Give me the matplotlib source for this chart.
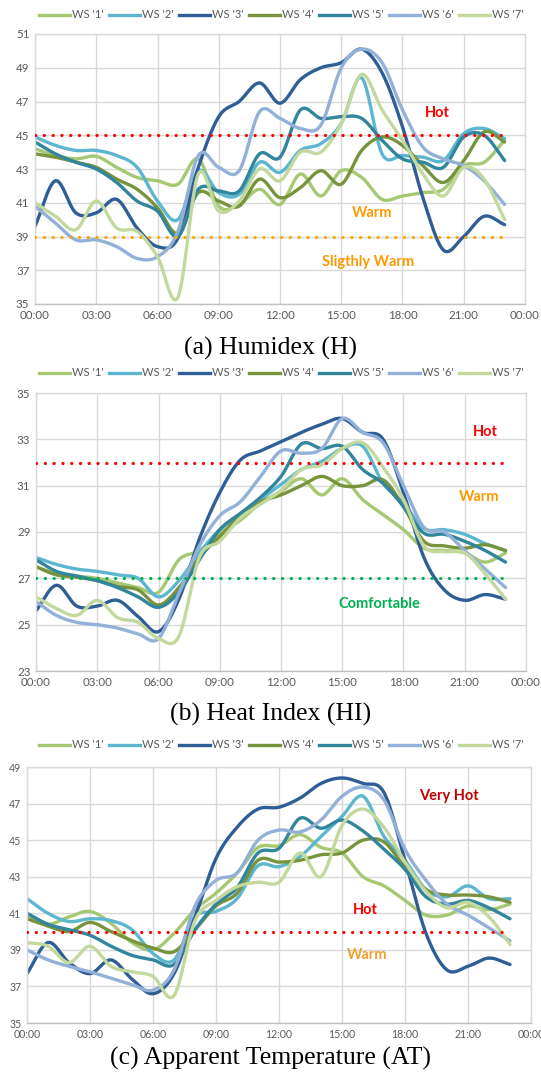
import numpy as np
import matplotlib
matplotlib.use("Agg")
import matplotlib.pyplot as plt
from matplotlib.lines import Line2D

hours = list(range(24))
series_names = ["WS '1'", "WS '2'", "WS '3'", "WS '4'", "WS '5'", "WS '6'", "WS '7'"]
colors = ["#A6C872", "#5DB6CF", "#2F5D96", "#77933C", "#31859C", "#92B0D8", "#C2D89D"]
xtick_labels = ["00:00", "03:00", "06:00", "09:00", "12:00", "15:00", "18:00", "21:00", "00:00"]

# (a) Humidex
H_WS1 = [44.2, 43.8, 43.6, 43.75, 43.1, 42.5, 42.3, 42.1, 43.6, 40.8, 40.9, 41.8, 40.9, 42.7, 41.4, 42.9, 42.5, 41.2, 41.4, 41.6, 41.8, 43.2, 43.4, 44.7]
H_WS2 = [44.9, 44.4, 44.1, 44.1, 43.8, 43.1, 41.1, 40.0, 42.9, 41.6, 41.5, 43.4, 42.8, 44.1, 44.5, 45.7, 48.4, 43.9, 43.8, 43.7, 43.5, 45.1, 45.4, 44.8]
H_WS3 = [39.6, 42.3, 40.4, 40.4, 41.2, 39.5, 38.4, 38.9, 43.1, 46.1, 47.0, 48.1, 46.9, 48.3, 49.0, 49.3, 50.1, 48.7, 45.5, 41.3, 38.2, 39.0, 40.2, 39.7]
H_WS4 = [43.9, 43.7, 43.4, 43.1, 42.4, 41.8, 40.7, 39.2, 41.6, 41.1, 40.8, 42.4, 41.3, 41.9, 42.9, 42.1, 44.1, 44.9, 44.4, 43.2, 42.2, 43.5, 45.2, 44.6]
H_WS5 = [44.6, 43.9, 43.4, 43.0, 42.2, 41.1, 40.5, 39.0, 41.8, 41.7, 41.7, 43.9, 43.7, 46.5, 46.0, 46.1, 46.0, 44.7, 43.6, 43.4, 43.1, 44.9, 45.0, 43.5]
H_WS6 = [40.8, 39.8, 38.8, 38.8, 38.4, 37.7, 37.8, 39.3, 43.8, 43.1, 42.9, 46.4, 46.0, 45.4, 45.6, 49.0, 50.1, 49.3, 46.5, 44.3, 43.6, 43.2, 42.3, 40.9]
H_WS7 = [41.0, 40.2, 39.4, 41.1, 39.5, 39.3, 37.8, 35.4, 42.7, 40.5, 41.1, 43.0, 42.3, 44.0, 44.0, 45.7, 48.6, 46.5, 44.7, 42.7, 41.4, 43.1, 42.4, 40.0]

# (b) Heat Index
HI_WS1 = [27.5, 27.2, 27.1, 27.0, 26.8, 26.6, 26.4, 27.8, 28.2, 28.95, 29.5, 30.25, 30.75, 31.3, 30.6, 31.3, 30.4, 29.75, 29.1, 28.3, 28.2, 28.1, 27.7, 28.1]
HI_WS2 = [27.9, 27.6, 27.4, 27.3, 27.15, 27.0, 26.2, 26.9, 28.1, 29.1, 29.7, 30.4, 31.05, 31.7, 32.05, 32.6, 32.7, 31.1, 30.25, 29.15, 29.1, 28.9, 28.5, 28.2]
HI_WS3 = [25.6, 26.7, 25.8, 25.8, 26.05, 25.35, 24.7, 26.1, 28.7, 30.7, 32.1, 32.5, 32.9, 33.3, 33.65, 33.9, 33.3, 33.0, 30.7, 27.9, 26.5, 26.05, 26.3, 26.1]
HI_WS4 = [27.5, 27.15, 27.05, 26.9, 26.65, 26.5, 25.85, 26.6, 27.9, 28.8, 29.7, 30.3, 30.6, 31.0, 31.4, 31.0, 31.0, 31.25, 30.1, 28.6, 28.4, 28.3, 28.45, 28.2]
HI_WS5 = [27.8, 27.3, 27.1, 26.9, 26.6, 26.2, 25.75, 26.4, 27.8, 29.1, 29.8, 30.5, 31.4, 32.8, 32.6, 32.7, 31.7, 31.1, 30.1, 28.95, 28.9, 28.6, 28.2, 27.7]
HI_WS6 = [26.0, 25.4, 25.1, 25.0, 24.85, 24.6, 24.4, 26.35, 28.4, 29.7, 30.3, 31.4, 32.5, 32.4, 32.6, 33.9, 33.3, 32.85, 31.0, 29.2, 29.0, 28.2, 27.4, 26.6]
HI_WS7 = [26.2, 25.7, 25.4, 26.05, 25.3, 25.1, 24.4, 24.5, 27.9, 28.6, 29.6, 30.2, 30.8, 31.7, 31.9, 32.6, 32.85, 31.8, 30.4, 28.4, 28.15, 28.1, 27.2, 26.1]

# (c) Apparent Temperature
AT_WS1 = [40.8, 40.4, 40.8, 41.1, 40.45, 39.4, 39.0, 39.9, 41.2, 42.1, 43.2, 44.6, 44.7, 45.3, 44.6, 44.3, 43.0, 42.5, 41.7, 40.9, 40.9, 41.4, 41.2, 41.5]
AT_WS2 = [41.8, 41.0, 40.55, 40.7, 40.6, 40.1, 38.8, 38.45, 40.8, 41.1, 41.8, 43.6, 43.55, 44.1, 45.2, 46.3, 47.4, 45.2, 43.9, 42.3, 41.9, 42.5, 41.8, 41.8]
AT_WS3 = [37.7, 39.4, 38.3, 37.7, 38.45, 37.4, 36.6, 37.7, 40.8, 44.0, 45.7, 46.7, 46.8, 47.3, 48.1, 48.4, 48.1, 47.6, 43.9, 39.9, 37.9, 38.1, 38.55, 38.2]
AT_WS4 = [40.7, 40.3, 40.0, 40.5, 40.0, 39.5, 39.1, 38.9, 40.1, 41.4, 42.1, 43.9, 43.8, 43.9, 44.2, 44.3, 45.0, 44.9, 43.5, 42.3, 42.0, 42.0, 41.9, 41.6]
AT_WS5 = [41.0, 40.4, 40.1, 39.8, 39.2, 38.7, 38.45, 38.2, 40.1, 41.5, 42.4, 44.3, 44.55, 46.2, 45.65, 46.1, 45.5, 44.5, 43.4, 41.9, 41.5, 41.7, 41.3, 40.7]
AT_WS6 = [39.0, 38.45, 38.1, 37.8, 37.45, 37.1, 36.8, 37.9, 41.4, 42.8, 43.2, 45.0, 45.55, 45.45, 46.1, 47.4, 47.9, 47.2, 44.5, 42.8, 41.5, 40.9, 40.2, 39.5]
AT_WS7 = [39.4, 39.2, 38.3, 39.2, 38.1, 37.8, 37.55, 36.5, 40.6, 41.7, 42.45, 42.7, 42.7, 44.3, 43.0, 45.8, 46.7, 45.7, 43.8, 42.2, 41.3, 41.6, 40.8, 39.3]

H_series = [H_WS1, H_WS2, H_WS3, H_WS4, H_WS5, H_WS6, H_WS7]
HI_series = [HI_WS1, HI_WS2, HI_WS3, HI_WS4, HI_WS5, HI_WS6, HI_WS7]
AT_series = [AT_WS1, AT_WS2, AT_WS3, AT_WS4, AT_WS5, AT_WS6, AT_WS7]

H_thresholds = [(45, "#FF0000"), (39, "#FFA500")]
HI_thresholds = [(32, "#FF0000"), (27, "#00B050")]
AT_thresholds = [(40, "#FF0000")]

H_labels = [(19.7, 46.3, "Hot", "#FF0000"), (16.5, 40.4, "Warm", "#FF9900"), (16.3, 37.5, "Sligthly Warm", "#FF9900")]
HI_labels = [(22.0, 33.3, "Hot", "#FF0000"), (21.7, 30.5, "Warm", "#FF9900"), (16.8, 25.9, "Comfortable", "#00B050")]
AT_labels = [(20.1, 47.4, "Very Hot", "#C00000"), (16.1, 41.2, "Hot", "#FF0000"), (16.2, 38.7, "Warm", "#F0A030")]


def catmull_rom(x, y, n=24):
    x = np.asarray(x, float)
    y = np.asarray(y, float)
    xp = np.concatenate([[2 * x[0] - x[1]], x, [2 * x[-1] - x[-2]]])
    yp = np.concatenate([[2 * y[0] - y[1]], y, [2 * y[-1] - y[-2]]])
    xs, ys = [], []
    t = np.linspace(0, 1, n, endpoint=False)
    for i in range(1, len(xp) - 2):
        for arr, out in ((xp, xs), (yp, ys)):
            p0, p1, p2, p3 = arr[i - 1], arr[i], arr[i + 1], arr[i + 2]
            out.append(0.5 * ((2 * p1) + (-p0 + p2) * t + (2 * p0 - 5 * p1 + 4 * p2 - p3) * t ** 2
                              + (-p0 + 3 * p1 - 3 * p2 + p3) * t ** 3))
    xs.append([x[-1]])
    ys.append([y[-1]])
    return np.concatenate(xs), np.concatenate(ys)


fig = plt.figure(figsize=(5.41, 10.75), dpi=100)
fig.patch.set_facecolor("white")

panels = [
    dict(rect=[35 / 541, 1 - 304 / 1075, 490 / 541, 270 / 1075], data=H_series, ylim=(35, 51),
         th=H_thresholds, labels=H_labels, leg_y=1 - 15 / 1075, cap_y=1 - 348 / 1075,
         caption="(a) Humidex (H)", tick_fs=8.3),
    dict(rect=[36 / 541, 1 - 671 / 1075, 490 / 541, 278 / 1075], data=HI_series, ylim=(23, 35),
         th=HI_thresholds, labels=HI_labels, leg_y=1 - 373 / 1075, cap_y=1 - 714 / 1075,
         caption="(b) Heat Index (HI)", tick_fs=8.3),
    dict(rect=[27 / 541, 1 - 1023 / 1075, 504 / 541, 256 / 1075], data=AT_series, ylim=(35, 49),
         th=AT_thresholds, labels=AT_labels, leg_y=1 - 745 / 1075, cap_y=1 - 1058 / 1075,
         caption="(c) Apparent Temperature (AT)", tick_fs=7.6),
]

tick_color = "#595959"
grid_color = "#D9D9D9"

for p in panels:
    ax = fig.add_axes(p["rect"])
    ax.set_xlim(0, 24)
    ax.set_ylim(*p["ylim"])
    ax.set_xticks(np.arange(0, 25, 3))
    ax.set_xticklabels(xtick_labels)
    ax.set_yticks(np.arange(p["ylim"][0], p["ylim"][1] + 0.1, 2))
    ax.grid(True, color=grid_color, lw=1.0)
    ax.set_axisbelow(True)
    for s in ax.spines.values():
        s.set_color(grid_color)
        s.set_linewidth(1.0)
    ax.spines["bottom"].set_color("#BFBFBF")
    ax.tick_params(length=0, labelsize=p["tick_fs"], labelcolor=tick_color, pad=4)
    for lab in ax.get_xticklabels() + ax.get_yticklabels():
        lab.set_fontfamily("Lato")

    for vals, c in zip(p["data"], colors):
        xs, ys = catmull_rom(hours, vals)
        ax.plot(xs, ys, color=c, lw=2.4, solid_capstyle="round", solid_joinstyle="round")

    for val, c in p["th"]:
        ax.plot([hours[0], hours[-1]], [val, val], color=c, lw=2.3,
                linestyle=(0, (0.05, 2.7)), dash_capstyle="round", zorder=5)

    for x, y, txt, c in p["labels"]:
        ax.text(x, y, txt, color=c, fontsize=10.5, fontweight="bold", family="Lato",
                ha="center", va="center", zorder=6)

    handles = [Line2D([0], [0], color=c, lw=2.4) for c in colors]
    fig.legend(handles, series_names, loc="center", bbox_to_anchor=(0.52, p["leg_y"]),
               ncol=7, frameon=False, handlelength=2.8, handletextpad=0.15,
               columnspacing=0.5, prop={"family": "Lato", "size": 8}, labelcolor=tick_color)

    fig.text(0.5, p["cap_y"], p["caption"], ha="center", va="center",
             family="Liberation Serif", fontsize=18.5, color="black")

fig.savefig("out.png", dpi=100, facecolor="white")
